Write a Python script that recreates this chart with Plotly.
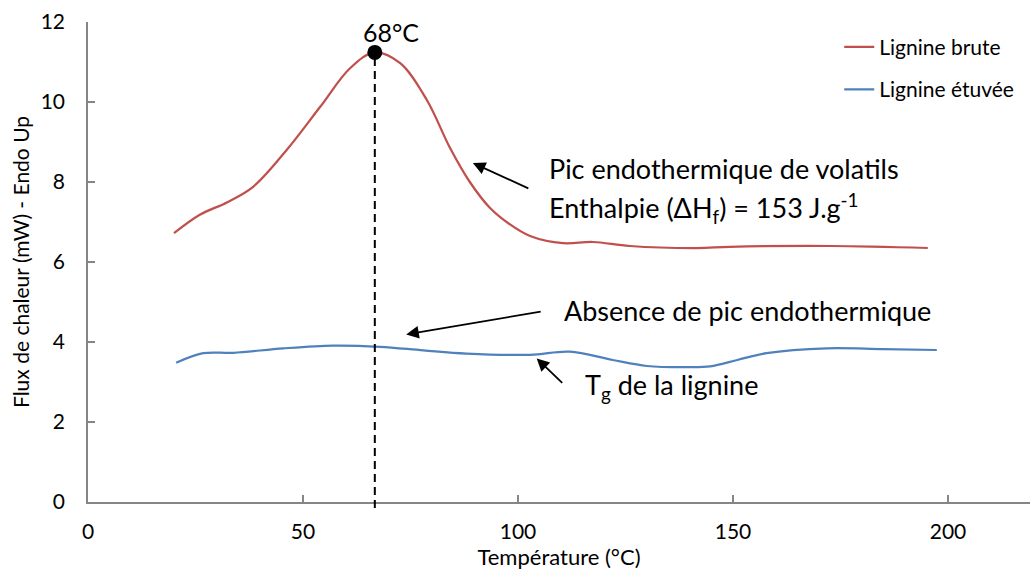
import plotly.graph_objects as go

# Data
temp_brute = [20, 26, 32.3, 38.4, 46.2, 54, 61, 66.7, 72.6, 78.8, 84.2, 88.8, 93.5, 98, 102.8, 110.5, 117.4, 126, 141.6, 149.3, 172.6, 195.3]
flux_brute = [6.72, 7.18, 7.49, 7.88, 8.8, 9.88, 10.85, 11.24, 10.97, 10.05, 8.85, 8.0, 7.35, 6.95, 6.65, 6.47, 6.5, 6.4, 6.35, 6.38, 6.4, 6.35]

temp_etuvee = [20.5, 26.8, 33.8, 45.4, 57, 67.9, 78, 88, 102.8, 112, 122, 130, 139.3, 144.7, 151, 157.8, 171.8, 185, 197.4]
flux_etuvee = [3.48, 3.72, 3.73, 3.84, 3.91, 3.88, 3.79, 3.71, 3.68, 3.76, 3.55, 3.40, 3.37, 3.39, 3.55, 3.72, 3.84, 3.82, 3.80]

peak_temp = [66.7]
peak_flux = [11.24]

x_ticks = [0, 50, 100, 150, 200]
y_ticks = [0, 2, 4, 6, 8, 10, 12]

FONT = "Lato"
AXIS_COLOR = "#868686"

fig = go.Figure()
fig.add_trace(go.Scatter(x=temp_brute, y=flux_brute, mode="lines", name="Lignine brute", legendgroup="a",
                         line=dict(color="#C0504D", width=2.25, shape="spline", smoothing=1.0)))
fig.add_trace(go.Scatter(x=temp_etuvee, y=flux_etuvee, mode="lines", name="Lignine étuvée", legendgroup="b",
                         line=dict(color="#4F81BD", width=2.25, shape="spline", smoothing=1.0)))
fig.add_trace(go.Scatter(x=peak_temp, y=peak_flux, mode="markers", showlegend=False,
                         marker=dict(color="black", size=15), cliponaxis=False))

# dashed vertical line through the peak
fig.add_shape(type="line", xref="x", yref="paper", x0=peak_temp[0], x1=peak_temp[0],
              y0=-0.0125, y1=peak_flux[0] / 12, line=dict(color="black", width=2, dash="8px,5px"))

ann_font = dict(family=FONT, size=27, color="black")
fig.add_annotation(x=70.4, y=11.75, text="68°C", showarrow=False,
                   font=dict(family=FONT, size=25, color="black"))

# arrows (head position in data units, tail offset in pixels)
for (hx, hy, axp, ayp) in [(89.5, 8.475, 57, 26), (74.0, 4.19, 136, -23), (104.35, 3.59, 27, 26)]:
    fig.add_annotation(x=hx, y=hy, ax=axp, ay=ayp, text="", showarrow=True,
                       arrowhead=2, arrowsize=1.4, arrowwidth=1.8, arrowcolor="black")

fig.add_annotation(x=106.8, y=8.33, text="Pic endothermique de volatils", showarrow=False,
                   xanchor="left", font=ann_font)
fig.add_annotation(x=106.8, y=7.35, text="Enthalpie (ΔH<sub>f</sub>) = 153 J.g<sup>-1</sup>", showarrow=False,
                   xanchor="left", font=ann_font)
fig.add_annotation(x=110.2, y=4.8, text="Absence de pic endothermique", showarrow=False,
                   xanchor="left", font=ann_font)
fig.add_annotation(x=115.1, y=2.9, text="T<sub>g</sub> de la lignine", showarrow=False,
                   xanchor="left", font=ann_font)

fig.update_layout(
    width=1030, height=570,
    margin=dict(l=88, r=0, t=22, b=68, autoexpand=False),
    plot_bgcolor="white", paper_bgcolor="white",
    font=dict(family=FONT, color="black"),
    legend=dict(x=0.7975, y=0.99, xanchor="left", yanchor="top",
                font=dict(family=FONT, size=21, color="black"),
                bgcolor="rgba(0,0,0,0)", tracegroupgap=12),
)
fig.update_xaxes(range=[0, 219.07], tickvals=x_ticks, showgrid=False, zeroline=False, automargin=False,
                 showline=True, linecolor=AXIS_COLOR, linewidth=1.5,
                 ticks="inside", ticklen=7, tickcolor=AXIS_COLOR, tickwidth=1.5,
                 tickfont=dict(family=FONT, size=21, color="black"), ticklabelstandoff=10,
                 title=dict(text="Température (°C)", font=dict(family=FONT, size=22, color="black"), standoff=2))
fig.update_yaxes(range=[0, 12], tickvals=y_ticks, showgrid=False, zeroline=False, automargin=False,
                 showline=True, linecolor=AXIS_COLOR, linewidth=1.5,
                 ticks="inside", ticklen=7, tickcolor=AXIS_COLOR, tickwidth=1.5,
                 tickfont=dict(family=FONT, size=21, color="black"), ticklabelstandoff=17,
                 title=dict(text="Flux de chaleur (mW) - Endo Up", font=dict(family=FONT, size=21, color="black"), standoff=5))

fig.write_html("out.html", config={"displayModeBar": False},
               post_script="document.body.style.margin='0';document.body.style.overflow='hidden';")
